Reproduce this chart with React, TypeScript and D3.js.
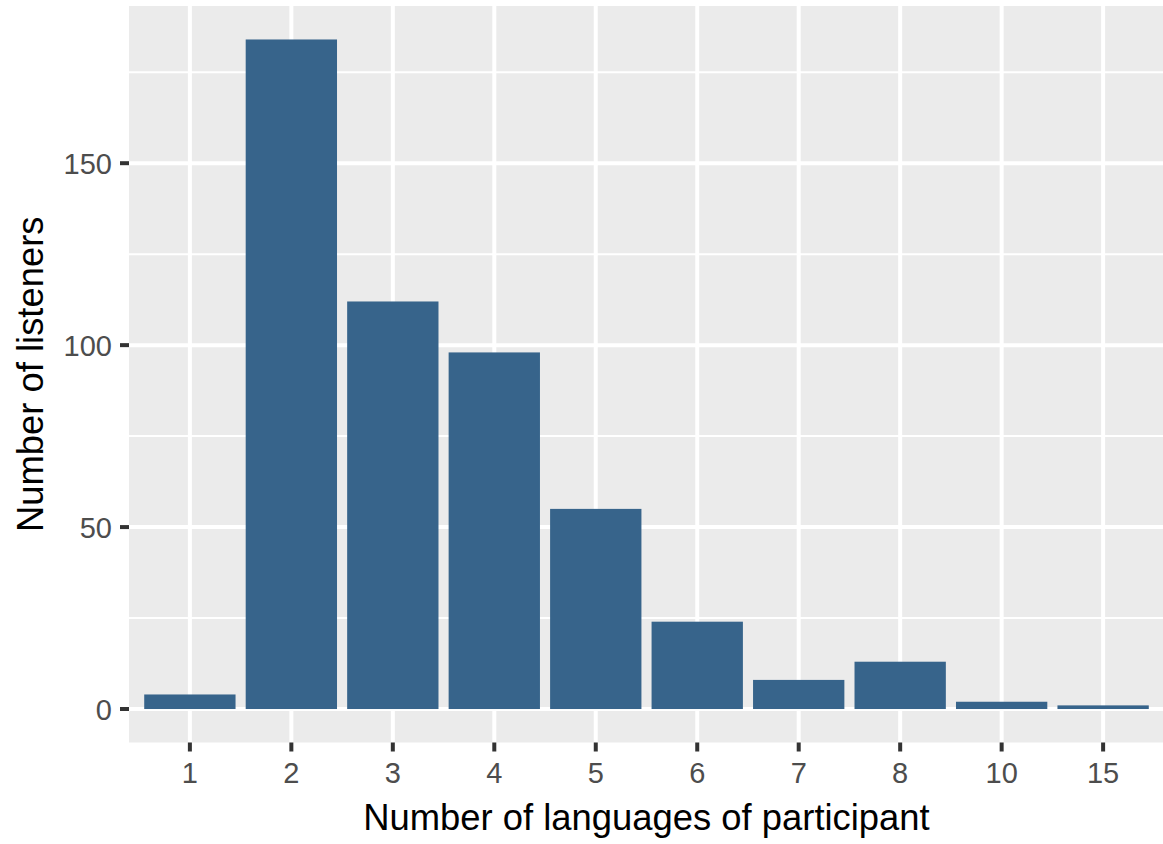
import React from "react";
import * as d3 from "d3";

const categories: string[] = ["1", "2", "3", "4", "5", "6", "7", "8", "10", "15"];
const counts: number[] = [4, 184, 112, 98, 55, 24, 8, 13, 2, 1];
const yTicks: number[] = [0, 50, 100, 150];
const yMinor: number[] = [25, 75, 125, 175];
const xTitle = "Number of languages of participant";
const yTitle = "Number of listeners";

const W = 1163;
const H = 844;
const panel = { left: 129, right: 1164, top: 6, bottom: 742.5 };
const font = "'Liberation Sans', Arial, Helvetica, sans-serif";

export default function App() {
  const n = categories.length;
  const unit = (panel.right - panel.left) / (n - 1 + 1.2);
  const x = d3
    .scaleLinear()
    .domain([-0.6, n - 1 + 0.6])
    .range([panel.left, panel.right]);
  const maxV = d3.max(counts) as number;
  const y = d3
    .scaleLinear()
    .domain([-0.05 * maxV, maxV * 1.05])
    .range([panel.bottom, panel.top]);
  const barW = unit * 0.9;

  return (
    <svg
      width={W}
      height={H}
      style={{ position: "absolute", left: 0, top: 0, display: "block" }}
    >
      <rect x={0} y={0} width={W} height={H} fill="#FFFFFF" />
      <rect
        x={panel.left}
        y={panel.top}
        width={panel.right - panel.left}
        height={panel.bottom - panel.top}
        fill="#EBEBEB"
      />
      {yMinor.map((v) => (
        <line
          key={"ym" + v}
          x1={panel.left}
          x2={panel.right}
          y1={y(v)}
          y2={y(v)}
          stroke="#FFFFFF"
          strokeWidth={2}
        />
      ))}
      {yTicks.map((v) => (
        <line
          key={"yg" + v}
          x1={panel.left}
          x2={panel.right}
          y1={y(v)}
          y2={y(v)}
          stroke="#FFFFFF"
          strokeWidth={4}
        />
      ))}
      {categories.map((c, i) => (
        <line
          key={"xg" + c}
          x1={x(i)}
          x2={x(i)}
          y1={panel.top}
          y2={panel.bottom}
          stroke="#FFFFFF"
          strokeWidth={4}
        />
      ))}
      {counts.map((v, i) => (
        <rect
          key={"b" + i}
          x={x(i) - barW / 2}
          y={y(v)}
          width={barW}
          height={y(0) - y(v)}
          fill="#37648B"
        />
      ))}
      {yTicks.map((v) => (
        <g key={"yt" + v}>
          <line
            x1={panel.left - 9}
            x2={panel.left}
            y1={y(v)}
            y2={y(v)}
            stroke="#333333"
            strokeWidth={4}
          />
          <text
            x={panel.left - 17}
            y={y(v) + 10.5}
            textAnchor="end"
            fontFamily={font}
            fontSize={29}
            fill="#4D4D4D"
          >
            {v}
          </text>
        </g>
      ))}
      {categories.map((c, i) => (
        <g key={"xt" + c}>
          <line
            x1={x(i)}
            x2={x(i)}
            y1={panel.bottom}
            y2={panel.bottom + 9}
            stroke="#333333"
            strokeWidth={4}
          />
          <text
            x={x(i)}
            y={783}
            textAnchor="middle"
            fontFamily={font}
            fontSize={29}
            fill="#4D4D4D"
          >
            {c}
          </text>
        </g>
      ))}
      <text
        x={(panel.left + panel.right) / 2}
        y={830}
        textAnchor="middle"
        fontFamily={font}
        fontSize={36.4}
        fill="#000000"
      >
        {xTitle}
      </text>
      <text
        transform={`translate(43, ${(panel.top + panel.bottom) / 2}) rotate(-90)`}
        textAnchor="middle"
        fontFamily={font}
        fontSize={36.4}
        fill="#000000"
      >
        {yTitle}
      </text>
    </svg>
  );
}
